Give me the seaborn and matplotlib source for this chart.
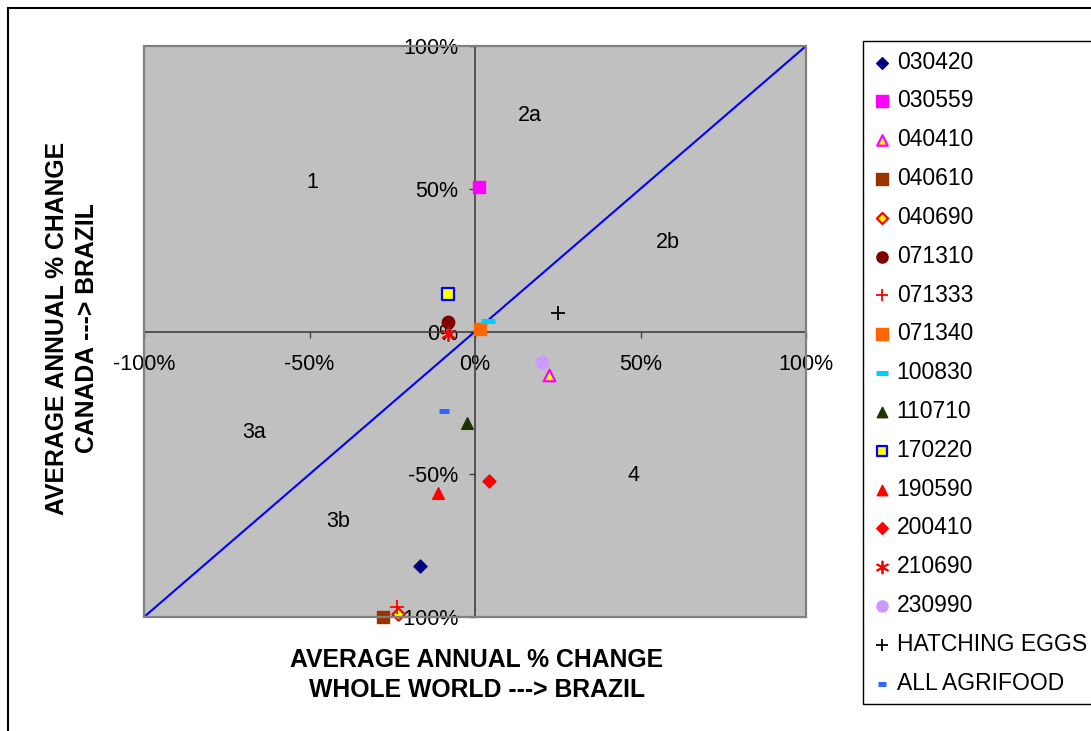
import matplotlib
matplotlib.use('Agg')
import matplotlib.pyplot as plt
import seaborn as sns
from matplotlib.patches import Rectangle
from matplotlib.ticker import FuncFormatter

# --- Data (average annual % change) ---
codes = ['030420', '030559', '040410', '040610', '040690', '071310', '071333',
         '071340', '100830', '110710', '170220', '190590', '200410', '210690',
         '230990', 'HATCHING EGGS', 'ALL AGRIFOOD']
world_to_brazil = [-16.6, 1.2, 22.4, -27.7, -23.4, -8.2, -23.5,
                   1.5, 3.9, -2.3, -8.2, -11.1, 4.3, -8.1,
                   20.3, 25.0, -9.4]
canada_to_brazil = [-82.1, 50.6, -15.2, -100.0, -99.0, 3.3, -96.6,
                    0.9, 3.7, -32.2, 13.2, -56.7, -52.4, -0.9,
                    -10.7, 6.4, -27.7]

ticks = [-100, -50, 0, 50, 100]
diagonal = [-100, 100]

zone_names = ['1', '2a', '2b', '3a', '3b', '4']
zone_x = [-49, 16.6, 58.3, -66.8, -41.4, 48]
zone_y = [52.3, 75.5, 31, -35.5, -66.7, -50.6]

# --- Marker styles per series: marker, face, edge, size, edge width ---
styles = {
    '030420': ('D', '#000080', '#000080', 44, 1),
    '030559': ('s', '#FF00FF', '#FF00FF', 80, 1),
    '040410': ('^', '#FFFF00', '#FF00FF', 70, 1.6),
    '040610': ('s', '#993300', '#993300', 80, 1),
    '040690': ('D', '#FFFF00', '#FF0000', 40, 1.6),
    '071310': ('o', '#800000', '#800000', 80, 1),
    '071333': ('+', '#FF0000', '#FF0000', 90, 1.3),
    '071340': ('s', '#FF6600', '#FF6600', 80, 1),
    '100830': ('_', '#00CCFF', '#00CCFF', 100, 3.6),
    '110710': ('^', '#1F3300', '#1F3300', 70, 1),
    '170220': ('s', '#FFFF00', '#0000FF', 75, 1.6),
    '190590': ('^', '#FF0000', '#FF0000', 70, 1),
    '200410': ('D', '#FF0000', '#FF0000', 44, 1),
    '210690': ((6, 2, 0), '#FF0000', '#FF0000', 90, 1.3),
    '230990': ('o', '#CC99FF', '#CC99FF', 80, 1),
    'HATCHING EGGS': ('+', '#000000', '#000000', 90, 1.3),
    'ALL AGRIFOOD': ('_', '#3366FF', '#3366FF', 50, 3.6),
}

# --- Styling ---
sns.set_theme(style='white')
plt.rcParams['font.family'] = ['Liberation Sans', 'DejaVu Sans']
plt.rcParams['text.color'] = 'black'
plt.rcParams['xtick.color'] = 'black'
plt.rcParams['ytick.color'] = 'black'

fig = plt.figure(figsize=(10.91, 7.31), dpi=100)
ax = fig.add_axes([144 / 1091, 1 - 617 / 731, 662 / 1091, 571 / 731])
ax.set_facecolor('#C0C0C0')

# diagonal reference line
ax.plot(diagonal, diagonal, color='#0000FF', lw=1.5, zorder=2)

for code, xv, yv in zip(codes, world_to_brazil, canada_to_brazil):
    mk, face, edge, size, lw = styles[code]
    sns.scatterplot(x=[xv], y=[yv], ax=ax, marker=mk, s=size, color=face,
                    edgecolor=edge, linewidth=lw, label=code, zorder=3,
                    clip_on=False, legend=False)

for name, zx, zy in zip(zone_names, zone_x, zone_y):
    ax.text(zx, zy, name, fontsize=15.5, ha='center', va='center',
            color='black')

ax.set_xlim(-100, 100)
ax.set_ylim(-100, 100)
ax.set_xticks(ticks)
ax.set_yticks(ticks)
pct = FuncFormatter(lambda v, p: f'{v:.0f}%')
ax.xaxis.set_major_formatter(pct)
ax.yaxis.set_major_formatter(pct)

for side in ['left', 'bottom']:
    ax.spines[side].set_position('zero')
    ax.spines[side].set_color('#404040')
    ax.spines[side].set_linewidth(1.2)
for side in ['top', 'right']:
    ax.spines[side].set_visible(False)
ax.add_patch(Rectangle((0, 0), 1, 1, transform=ax.transAxes, fill=False,
                       edgecolor='#808080', lw=1.6, zorder=4, clip_on=False))

ax.tick_params(axis='x', direction='out', length=4, width=1, color='#404040',
               labelcolor='black', labelsize=15.5, pad=12, bottom=True)
ax.tick_params(axis='y', direction='out', length=4, width=1, color='#404040',
               labelcolor='black', labelsize=15.5, pad=8, left=True)
ax.set_xlabel('')
ax.set_ylabel('')

# axis titles
fig.text(477 / 1091, 1 - 675 / 731,
         'AVERAGE ANNUAL % CHANGE\nWHOLE WORLD ---> BRAZIL',
         fontsize=17.8, fontweight='bold', ha='center', va='center',
         multialignment='center', linespacing=1.32, color='black')
fig.text(72 / 1091, 1 - 328 / 731,
         'AVERAGE ANNUAL % CHANGE\nCANADA ---> BRAZIL',
         fontsize=17.8, fontweight='bold', ha='center', va='center',
         rotation=90, multialignment='center', linespacing=1.32,
         color='black')

# legend outside to the right
handles, labels = ax.get_legend_handles_labels()
leg = fig.legend(handles, labels, loc='upper left',
                 bbox_to_anchor=(863 / 1091, 1 - 41 / 731),
                 fontsize=16.5, frameon=True, fancybox=False, edgecolor='black',
                 framealpha=1, handlelength=0.8, handletextpad=0.25,
                 labelspacing=0.69, borderpad=0.42, borderaxespad=0,
                 scatterpoints=1, markerscale=0.9)
leg.get_frame().set_linewidth(1)
for t in leg.get_texts():
    t.set_color('black')

# outer chart border
fig.add_artist(Rectangle((8 / 1091, -0.5), 2, 0.5 + 1 - 8 / 731,
                         transform=fig.transFigure, fill=False,
                         edgecolor='black', lw=1.5))

fig.savefig('out.png', dpi=100)
